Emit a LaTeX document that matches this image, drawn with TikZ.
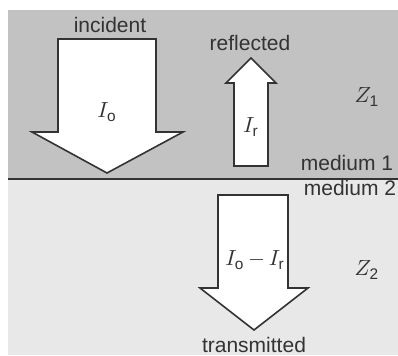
\documentclass[tikz,border=0pt]{standalone}
\usepackage{fontspec}
\setmainfont{Liberation Sans}
\usepackage{xcolor}
\definecolor{upper}{gray}{0.76}
\definecolor{lower}{gray}{0.91}
\definecolor{ink}{gray}{0.2}

\begin{document}
\begin{tikzpicture}[x=0.5pt,y=-0.5pt,
  wave/.style={draw=ink, line width=0.8pt, fill=white, line join=miter},
  lbl/.style={text=ink, font=\fontsize{10.5}{12}\selectfont},
  sym/.style={text=ink, font=\fontsize{11}{13}\selectfont}]
\useasboundingbox (0,0) rectangle (398,355);
% the two media
\fill[upper] (8,10) rectangle (398,179);
\fill[lower] (8,179) rectangle (398,355);
\draw[ink, line width=1.2pt] (8,179) -- (398,179);
% incident, reflected, transmitted
\draw[wave] (58,39) -- (156,39) -- (156,132) -- (183,132) -- (107,173) -- (32,132) -- (58,132) -- cycle;
\draw[wave] (234,166) -- (268,166) -- (268,83) -- (276,83) -- (251,58) -- (226,83) -- (234,83) -- cycle;
\draw[wave] (218,195) -- (288,195) -- (288,288) -- (308,288) -- (254,330) -- (200,288) -- (218,288) -- cycle;
% labels
\node[lbl] (inc) at (110,25) {incident};
\node[lbl] (refl) at (250,43) {reflected};
\node[lbl] (trans) at (254,345) {transmitted};
\node[lbl] (med1) at (347,163) {medium 1};
\node[lbl] (med2) at (350,188) {medium 2};
\node[sym] (z1) at (367,97) {$Z_\mathrm{1}$};
\node[sym] (z2) at (367,270) {$Z_\mathrm{2}$};
\node[sym] (io) at (107,112) {$I_\mathrm{o}$};
\node[sym] (ir) at (251,127) {$I_\mathrm{r}$};
\node[sym] (it) at (255,260) {$I_\mathrm{o}\,{-}\,I_\mathrm{r}$};
\end{tikzpicture}
\end{document}
